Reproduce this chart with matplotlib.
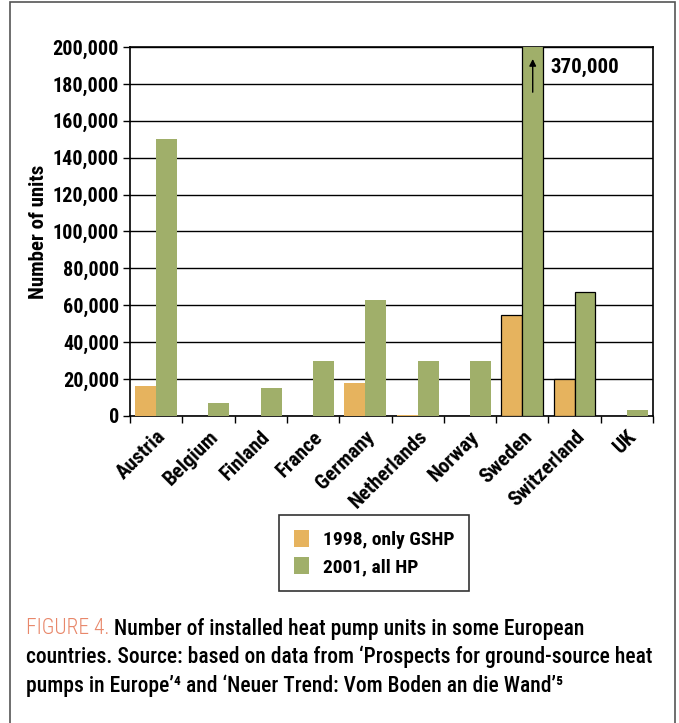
import numpy as np
import matplotlib.pyplot as plt
from matplotlib.patches import Rectangle

countries = ["Austria", "Belgium", "Finland", "France", "Germany",
             "Netherlands", "Norway", "Sweden", "Switzerland", "UK"]
gshp_1998 = [16000, 0, 0, 0, 18000, 500, 0, 55000, 20000, 0]
all_hp_2001 = [150000, 7000, 15000, 30000, 63000, 30000, 30000, 370000, 67000, 3000]
outlined = ["Sweden", "Switzerland"]

series_names = ["1998, only GSHP", "2001, all HP"]
col_1998 = "#e6b35e"
col_2001 = "#a0af6a"

plt.rcParams['font.family'] = ['Roboto Condensed', 'DejaVu Sans']

fig = plt.figure(figsize=(6.79, 7.23), dpi=100)
ax = fig.add_axes([130/679, 1-416/723, (653-130)/679, (416-47)/723])

x = np.arange(len(countries))
w = 0.4
edges = ["black" if c in outlined else "none" for c in countries]
b1 = ax.bar(x - w/2, gshp_1998, w, color=col_1998, edgecolor=edges, linewidth=0.9,
            label=series_names[0], zorder=3)
b2 = ax.bar(x + w/2, all_hp_2001, w, color=col_2001, edgecolor=edges, linewidth=0.9,
            label=series_names[1], zorder=3)

ax.set_xlim(-0.5, len(countries) - 0.5)
ax.set_ylim(0, 200000)
ax.set_yticks(np.arange(0, 200001, 20000))
ax.set_yticklabels(["{:,}".format(v) for v in range(0, 200001, 20000)],
                   fontsize=14.5, fontweight='bold')
ax.yaxis.grid(True, color='black', linewidth=1.0, zorder=0)
ax.set_axisbelow(True)

# ticks between categories, labels at the centers
ax.set_xticks(np.arange(-0.5, len(countries), 1.0))
ax.set_xticklabels([])
ax.set_xticks(x, minor=True)
ax.set_xticklabels(countries, minor=True, rotation=45, ha='right', va='top',
                   rotation_mode='anchor', fontsize=15, fontweight='bold')
ax.tick_params(axis='x', which='minor', length=0, pad=8)
ax.tick_params(axis='x', which='major', length=5, width=1)
ax.tick_params(axis='y', length=5, width=1, pad=3)
for s in ax.spines.values():
    s.set_linewidth(1.2)

ax.set_ylabel("Number of units", fontsize=15, fontweight='bold', labelpad=3)

# Sweden's 2001 value is off the scale
sw = countries.index("Sweden")
ax.annotate("", xy=(sw + w/2, 195000), xytext=(sw + w/2, 174000),
            arrowprops=dict(arrowstyle='-|>', color='black', lw=1.0,
                            mutation_scale=10), zorder=5)
ax.text(sw + w/2 + 0.33, 189000, "{:,}".format(all_hp_2001[sw]),
        fontsize=15, fontweight='bold', va='center', ha='left')

leg = fig.legend(handles=[b1, b2], loc='center', bbox_to_anchor=(374/679, 1-553/723),
                 prop={'weight': 'bold', 'size': 14}, frameon=True,
                 fancybox=False, edgecolor='black', handlelength=0.8, handleheight=1.0,
                 borderpad=0.75, labelspacing=0.4, handletextpad=0.7, borderaxespad=0)
leg.get_frame().set_linewidth(1.2)

# caption
cap_x = 26/679
fs = 15.5
head = fig.text(cap_x, 1-629/723, "FIGURE 4.", color="#e8876a", fontsize=fs,
                fontweight='light', va='center')
ax.annotate("Number of installed heat pump units in some European",
            xy=(1, 0.5), xycoords=head, xytext=(3, 0), textcoords='offset points',
            fontsize=fs, fontweight='medium', va='center', annotation_clip=False)
fig.text(cap_x, 1-657/723,
         "countries. Source: based on data from \u2018Prospects for ground-source heat",
         fontsize=fs, fontweight='medium', va='center')
fig.text(cap_x, 1-686/723,
         "pumps in Europe\u2019\u2074 and \u2018Neuer Trend: Vom Boden an die Wand\u2019\u2075",
         fontsize=fs, fontweight='medium', va='center')

fig.patches.append(Rectangle((10/679, -0.01), 665/679, 1 - 2/723 + 0.01,
                             transform=fig.transFigure, fill=False,
                             edgecolor='#555555', linewidth=1.2))

fig.savefig("out.png", dpi=100)
